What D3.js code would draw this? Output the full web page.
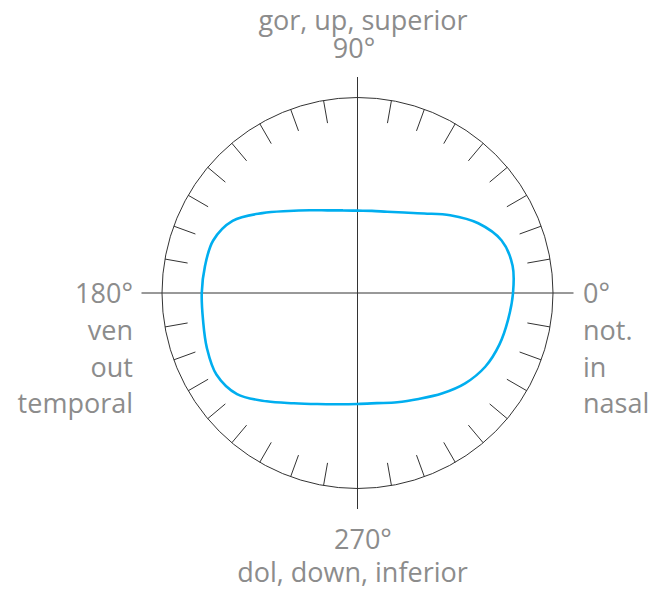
<!DOCTYPE html>
<html>
<head>
<meta charset="utf-8">
<script src="https://cdn.jsdelivr.net/npm/d3@7"></script>
<style>
  body { margin: 0; background: #fff; }
  text { font-family: "Open Sans", sans-serif; fill: #8c8c8c; }
</style>
</head>
<body>
<div id="chart"></div>
<script>
// Polar field boundary: angle (deg, 0 = right, counter-clockwise) and radius (deg of field, rim = 90)
var angles = [0, 10, 20, 30, 40, 50, 60, 70, 80, 90, 100, 110, 120, 130, 140, 150, 160, 170,
              180, 190, 200, 210, 220, 230, 240, 250, 260, 270, 280, 290, 300, 310, 320, 330, 340, 350];
var radii = [71.6, 72.5, 70.6, 64.2, 55.7, 47.8, 42.8, 39.8, 38.4, 37.9, 38.6, 40.5, 44.0, 49.3, 57.2, 66.4, 70.7, 71.3,
             71.7, 72.2, 73.8, 75.0, 72.4, 65.1, 58.6, 54.4, 52.0, 51.1, 51.5, 53.5, 56.3, 60.4, 64.7, 67.9, 69.5, 70.4];

// Rim ticks every 10 degrees, except on the axes
var tickAngles = d3.range(0, 360, 10).filter(d => d % 90 !== 0);

// Labels at the four axis ends
var rightLabels = ["0°", "not.", "in", "nasal"];
var leftLabels = ["180°", "ven", "out", "temporal"];
var topLabels = ["gor, up, superior", "90°"];
var bottomLabels = ["270°", "dol, down, inferior"];

var svgWidth = 656;
var svgHeight = 593;
var cx = 357.5;
var cy = 293;
var outerR = 195.5;

var svg = d3.select("#chart")
    .append("svg")
    .attr("width", svgWidth)
    .attr("height", svgHeight);

var g = svg.append("g")
    .attr("transform", `translate(${cx}, ${cy})`);

var rScale = d3.scaleLinear().domain([0, 90]).range([0, outerR]);
// math angle in degrees -> d3 radial angle (clockwise from 12 o'clock)
var aScale = d3.scaleLinear().domain([0, 360]).range([Math.PI / 2, Math.PI / 2 - 2 * Math.PI]);

// Rim
g.append("circle")
    .attr("r", rScale(90))
    .attr("fill", "none")
    .attr("stroke", "#333")
    .attr("stroke-width", 1);

// Crosshair
var ext = rScale(90) + 20.5;
g.append("line")
    .attr("x1", -ext).attr("x2", ext)
    .attr("y1", 0).attr("y2", 0)
    .attr("stroke", "#333").attr("stroke-width", 1);
g.append("line")
    .attr("x1", 0).attr("x2", 0)
    .attr("y1", -ext).attr("y2", ext)
    .attr("stroke", "#333").attr("stroke-width", 1);

// Ticks
g.selectAll("line.tick")
    .data(tickAngles)
    .enter()
    .append("line")
    .classed("tick", true)
    .attr("x1", d => rScale(90) * Math.sin(aScale(d)))
    .attr("y1", d => -rScale(90) * Math.cos(aScale(d)))
    .attr("x2", d => (rScale(90) - 23) * Math.sin(aScale(d)))
    .attr("y2", d => -(rScale(90) - 23) * Math.cos(aScale(d)))
    .attr("stroke", "#333")
    .attr("stroke-width", 1);

// Field boundary
var fieldData = angles.map((a, i) => ({ angle: a, r: radii[i] }));
var radial = d3.lineRadial()
    .angle(d => aScale(d.angle))
    .radius(d => rScale(d.r))
    .curve(d3.curveCatmullRomClosed.alpha(0.5));

g.append("path")
    .datum(fieldData)
    .attr("d", radial)
    .attr("fill", "none")
    .attr("stroke", "#00aeef")
    .attr("stroke-width", 2.6);

// Labels
var fontSize = 27;
var pitch = 36.7;

svg.selectAll("text.right")
    .data(rightLabels)
    .enter()
    .append("text")
    .attr("x", 583)
    .attr("y", (d, i) => 303.3 + i * pitch)
    .attr("font-size", fontSize)
    .text(d => d);

svg.selectAll("text.left")
    .data(leftLabels)
    .enter()
    .append("text")
    .attr("x", 133)
    .attr("y", (d, i) => 303.3 + i * pitch)
    .attr("text-anchor", "end")
    .attr("font-size", fontSize)
    .text(d => d);

var topX = [363, 354];
var topY = [29.5, 57.5];
svg.selectAll("text.top")
    .data(topLabels)
    .enter()
    .append("text")
    .attr("x", (d, i) => topX[i])
    .attr("y", (d, i) => topY[i])
    .attr("text-anchor", "middle")
    .attr("font-size", fontSize)
    .text(d => d);

var bottomX = [363, 352.5];
var bottomY = [549.3, 582];
svg.selectAll("text.bottom")
    .data(bottomLabels)
    .enter()
    .append("text")
    .attr("x", (d, i) => bottomX[i])
    .attr("y", (d, i) => bottomY[i])
    .attr("text-anchor", "middle")
    .attr("font-size", fontSize)
    .text(d => d);
</script>
</body>
</html>
